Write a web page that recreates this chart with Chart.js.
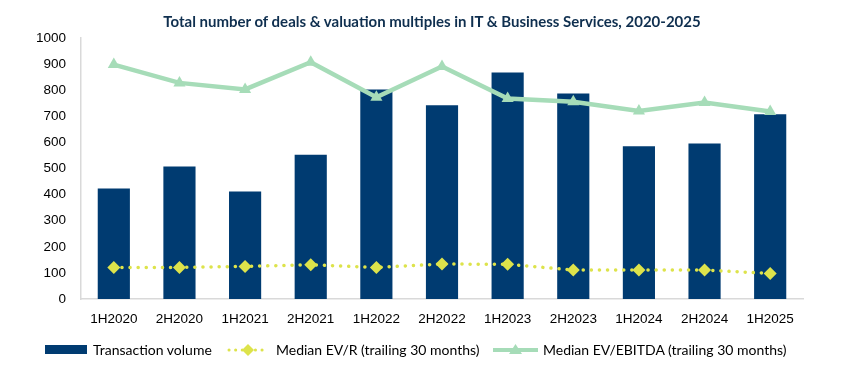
<!DOCTYPE html>
<html>
<head>
<meta charset="utf-8">
<script src="https://cdn.jsdelivr.net/npm/chart.js@4"></script>
<style>
  body { margin: 0; background: #fff; }
  .wrap { position: relative; width: 842px; height: 377px; }
  .title { position: absolute; top: 12px; left: 0; width: 864px; text-align: center;
    font-family: Lato, sans-serif; font-weight: bold; font-size: 15px; color: #0f2f4f; }
  .legend { position: absolute; top: 341px; left: 0; width: 842px; height: 20px;
    font-family: Lato, sans-serif; font-size: 14px; color: #000; }
  .legend span, .legend svg { position: absolute; }
  .legend span { top: 0; white-space: nowrap; }
</style>
</head>
<body>
<div class="wrap">
  <canvas id="chart" width="842" height="377"></canvas>
  <div class="title">Total number of deals &amp; valuation multiples in IT &amp; Business Services, 2020-2025</div>
  <div class="legend">
    <svg style="left:45px;top:4px" width="42" height="9"><rect width="42" height="9" fill="#003b71"/></svg>
    <span style="left:93px">Transaction volume</span>
    <svg style="left:227px;top:0px" width="42" height="18">
      <line x1="2" y1="9" x2="40" y2="9" stroke="#dde34b" stroke-width="3" stroke-linecap="round" stroke-dasharray="0.1 6.5"/>
      <polygon points="21,3 27,9 21,15 15,9" fill="#dde34b"/>
    </svg>
    <span style="left:276px">Median EV/R (trailing 30 months)</span>
    <svg style="left:493px;top:0px" width="45" height="18">
      <line x1="0" y1="9" x2="45" y2="9" stroke="#a6dcb8" stroke-width="4"/>
      <polygon points="22.5,3 29,13 16,13" fill="#a6dcb8"/>
    </svg>
    <span style="left:543px">Median EV/EBITDA (trailing 30 months)</span>
  </div>
</div>
<script>
const periods = ['1H2020', '2H2020', '1H2021', '2H2021', '1H2022', '2H2022', '1H2023', '2H2023', '1H2024', '2H2024', '1H2025'];
const transactionVolume = [423, 508, 412, 553, 803, 742, 868, 787, 585, 596, 708];
const medianEvR = [121, 121, 125, 131, 121, 134, 133, 111, 111, 111, 98];
const medianEvEbitda = [898, 828, 803, 907, 773, 891, 768, 756, 720, 753, 718];
const yTicks = [0, 100, 200, 300, 400, 500, 600, 700, 800, 900, 1000];

const tickFont = { family: 'Liberation Sans, Arial, sans-serif', size: 13.5 };

new Chart(document.getElementById('chart'), {
  type: 'bar',
  data: {
    labels: periods,
    datasets: [
      {
        type: 'line',
        label: 'Median EV/EBITDA (trailing 30 months)',
        data: medianEvEbitda,
        borderColor: '#a6dcb8',
        backgroundColor: '#a6dcb8',
        borderWidth: 4.5,
        pointStyle: 'triangle',
        pointRadius: 7,
        pointBorderWidth: 0,
        tension: 0,
        order: 1
      },
      {
        type: 'line',
        label: 'Median EV/R (trailing 30 months)',
        data: medianEvR,
        borderColor: '#dde34b',
        backgroundColor: '#dde34b',
        borderWidth: 3.5,
        borderDash: [0.1, 8],
        borderCapStyle: 'round',
        pointStyle: 'rectRot',
        pointRadius: 6.5,
        pointBorderWidth: 0,
        tension: 0,
        order: 2
      },
      {
        label: 'Transaction volume',
        data: transactionVolume,
        backgroundColor: '#003b71',
        barPercentage: 0.49,
        categoryPercentage: 1,
        order: 3
      }
    ]
  },
  options: {
    responsive: false,
    animation: false,
    layout: { padding: { left: 0, right: 39, top: 38, bottom: 40 } },
    plugins: { legend: { display: false }, tooltip: { enabled: false } },
    scales: {
      x: {
        grid: { display: false, drawTicks: false },
        border: { color: '#d9d9d9', width: 1.5 },
        ticks: { color: '#000', font: tickFont, padding: 12, maxRotation: 0 },
        afterFit: s => { s.height = 38; }
      },
      y: {
        min: 0,
        max: 1000,
        afterBuildTicks: s => { s.ticks = yTicks.map(v => ({ value: v })); },
        grid: { display: false, drawTicks: false },
        border: { color: '#d9d9d9', width: 1.5 },
        ticks: { color: '#000', font: tickFont, padding: 15, callback: v => String(v) },
        afterFit: s => { s.width = 81; }
      }
    }
  }
});
</script>
</body>
</html>
